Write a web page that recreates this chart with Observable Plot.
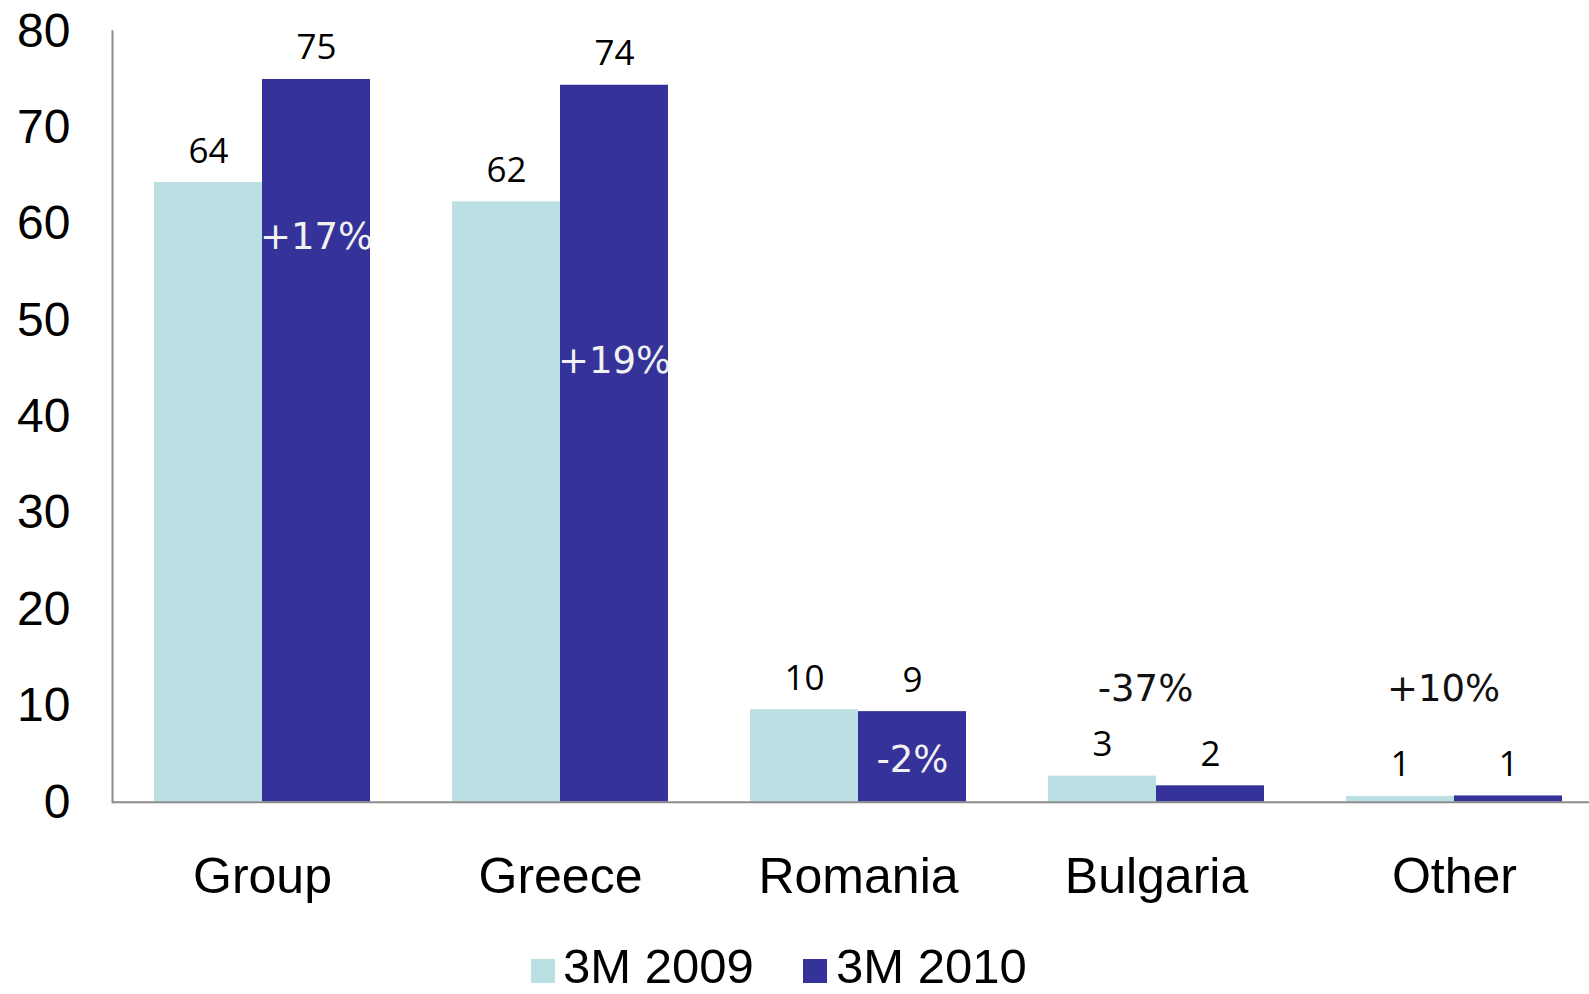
<!DOCTYPE html>
<html>
<head>
<meta charset="utf-8">
<script src="https://cdn.jsdelivr.net/npm/d3@7"></script>
<script src="https://cdn.jsdelivr.net/npm/@observablehq/plot@0.6"></script>
<style>
html, body { margin: 0; padding: 0; background: #fff; overflow: hidden; }
#wrap { position: relative; width: 1589px; height: 994px; overflow: hidden; }
#chart { position: absolute; left: 0; top: 0; }
#chart svg { max-width: none !important; }
.legend-text { position: absolute; font-family: "Liberation Sans", Arial, sans-serif; font-size: 49px; line-height: 40px; color: #000; white-space: nowrap; }
.swatch { position: absolute; width: 24px; height: 24px; }
</style>
</head>
<body>
<div id="wrap"><div id="chart"></div><div id="legend"></div></div>
<script>
// ---- data ----
const categories = ["Group", "Greece", "Romania", "Bulgaria", "Other"];
const seriesNames = ["3M 2009", "3M 2010"];
const values2009 = [64.3, 62.3, 9.6, 2.7, 0.6];
const values2010 = [75.0, 74.4, 9.4, 1.7, 0.65];
const labels2009 = ["64", "62", "10", "3", "1"];
const labels2010 = ["75", "74", "9", "2", "1"];
const changeLabels = ["+17%", "+19%", "-2%", "-37%", "+10%"];
const changeLevel = [57.4, 44.5, 3.1, 10.5, 10.5];
const changeInside = [true, true, true, false, false];
const yTicks = [0, 10, 20, 30, 40, 50, 60, 70, 80];
const colors = ["#bbe0e3", "#353399"];

const rows2009 = categories.map((c, i) => ({category: c, value: values2009[i], label: labels2009[i]}));
const rows2010 = categories.map((c, i) => ({category: c, value: values2010[i], label: labels2010[i]}));
const changes = categories.map((c, i) => ({category: c, level: changeLevel[i], label: changeLabels[i], inside: changeInside[i]}));

const numFont = "'Open Sans', 'Noto Sans', sans-serif";
const pctFont = "'DejaVu Sans', 'Open Sans', sans-serif";
const axisFont = "'Liberation Sans', Arial, sans-serif";

function build(bw) {
  return Plot.plot({
    width: 1604,
    height: 930,
    marginLeft: 112,
    marginRight: 0,
    marginTop: 30.8,
    marginBottom: 128.3,
    style: {fontFamily: axisFont, background: "transparent", overflow: "visible", maxWidth: "none"},
    x: {domain: categories, paddingInner: 0.2735, paddingOuter: 0.134, label: null},
    y: {domain: [0, 80], label: null},
    marks: [
      Plot.barY(rows2009, {x: "category", y: "value", fill: colors[0], insetRight: bw / 2}),
      Plot.barY(rows2010, {x: "category", y: "value", fill: colors[1], insetLeft: bw / 2}),
      Plot.ruleY([0], {stroke: "#8c8c8c", strokeWidth: 2}),
      Plot.frame({anchor: "left", stroke: "#8c8c8c", strokeWidth: 2}),
      Plot.text(rows2009, {x: "category", y: "value", text: "label", dx: -bw / 4, dy: -20, lineAnchor: "bottom", fontSize: 35, fontFamily: numFont, fill: "#000"}),
      Plot.text(rows2010, {x: "category", y: "value", text: "label", dx: bw / 4, dy: -20, lineAnchor: "bottom", fontSize: 35, fontFamily: numFont, fill: "#000"}),
      Plot.text(changes.filter(d => d.inside), {x: "category", y: "level", text: "label", dx: bw / 4, lineAnchor: "bottom", fontSize: 37, fontFamily: pctFont, fill: "#f2f2f2"}),
      Plot.text(changes.filter(d => !d.inside), {x: "category", y: "level", text: "label", dx: -11, lineAnchor: "bottom", fontSize: 37, fontFamily: pctFont, fill: "#111"}),
      Plot.axisY({ticks: yTicks, tickSize: 0, tickPadding: 42, fontSize: 48, fontFamily: axisFont, fill: "#000", tickFormat: d => String(d), label: null}),
      Plot.axisX({tickSize: 0, tickPadding: 55, fontSize: 50, fontFamily: axisFont, fill: "#000", label: null})
    ]
  });
}

const probe = build(0);
const bw = probe.scale("x").bandwidth;
const chart = build(bw);
document.getElementById("chart").appendChild(chart);

// ---- legend ----
const legend = document.getElementById("legend");
const legendPos = [{sw: 531, tx: 563}, {sw: 803, tx: 836}];
seriesNames.forEach((name, i) => {
  const sw = document.createElement("div");
  sw.className = "swatch";
  sw.style.left = legendPos[i].sw + "px";
  sw.style.top = "959px";
  sw.style.background = colors[i];
  legend.appendChild(sw);
  const t = document.createElement("div");
  t.className = "legend-text";
  t.style.left = legendPos[i].tx + "px";
  t.style.top = "946px";
  t.textContent = name;
  legend.appendChild(t);
});
</script>
</body>
</html>
